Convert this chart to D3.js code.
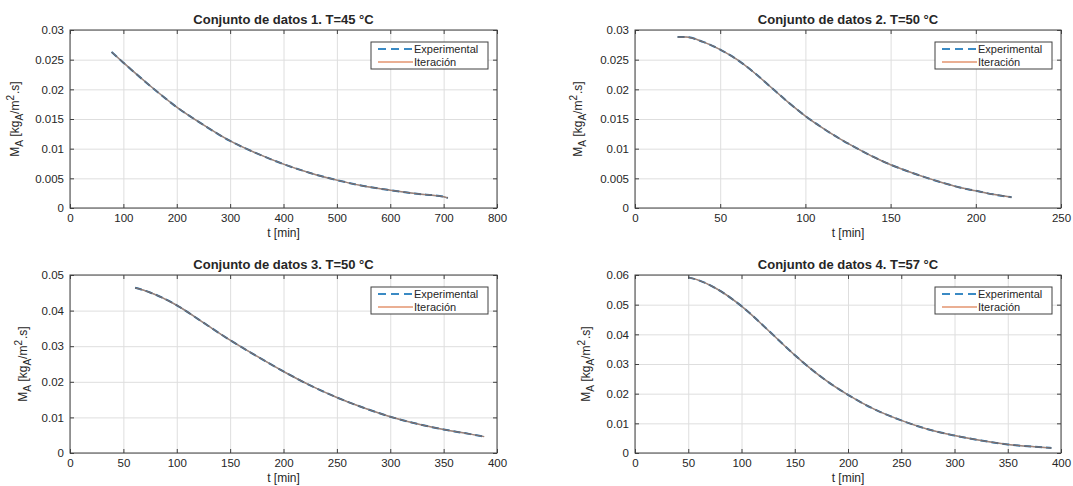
<!DOCTYPE html>
<html>
<head>
<meta charset="utf-8">
<script src="https://cdn.jsdelivr.net/npm/d3@7"></script>
<style>
body { margin: 0; background: #fff; }
text { font-family: "Liberation Sans", Arial, sans-serif; fill: #262626; }
</style>
</head>
<body>
<div id="chart"></div>
<script>
// Data (t in min, M_A in kg_A/m2.s)
const t1 = [78, 100, 150, 200, 250, 300, 350, 400, 450, 500, 550, 600, 650, 700, 708];
const m1 = [0.0263, 0.0245, 0.0206, 0.0170, 0.0140, 0.0113, 0.0092, 0.0074, 0.0059, 0.0047, 0.0037, 0.0030, 0.0024, 0.0019, 0.0017];

const t2 = [25, 30, 40, 50, 60, 70, 80, 90, 100, 110, 120, 130, 140, 150, 160, 170, 180, 190, 200, 210, 221];
const m2 = [0.0288, 0.0288, 0.0280, 0.0267, 0.0250, 0.0228, 0.0203, 0.0178, 0.0155, 0.0135, 0.0117, 0.0101, 0.0086, 0.0073, 0.0062, 0.0052, 0.0043, 0.0035, 0.0029, 0.0023, 0.0018];

const t3 = [61, 75, 100, 125, 150, 175, 200, 225, 250, 275, 300, 325, 350, 375, 388];
const m3 = [0.0464, 0.0451, 0.0415, 0.0366, 0.0317, 0.0272, 0.0229, 0.0190, 0.0156, 0.0127, 0.0102, 0.0082, 0.0066, 0.0053, 0.0046];

const t4 = [50, 60, 75, 100, 125, 150, 175, 200, 225, 250, 275, 300, 325, 350, 375, 391];
const m4 = [0.0592, 0.0582, 0.0557, 0.0495, 0.0414, 0.0330, 0.0256, 0.0196, 0.0147, 0.0110, 0.0080, 0.0059, 0.0042, 0.0029, 0.0021, 0.0017];

const titles = [
    'Conjunto de datos 1. T=45 °C',
    'Conjunto de datos 2. T=50 °C',
    'Conjunto de datos 3. T=50 °C',
    'Conjunto de datos 4. T=57 °C'
];
const x_ticks = [
    [0, 100, 200, 300, 400, 500, 600, 700, 800],
    [0, 50, 100, 150, 200, 250],
    [0, 50, 100, 150, 200, 250, 300, 350, 400],
    [0, 50, 100, 150, 200, 250, 300, 350, 400]
];
const y_ticks = [
    [0, 0.005, 0.01, 0.015, 0.02, 0.025, 0.03],
    [0, 0.005, 0.01, 0.015, 0.02, 0.025, 0.03],
    [0, 0.01, 0.02, 0.03, 0.04, 0.05],
    [0, 0.01, 0.02, 0.03, 0.04, 0.05, 0.06]
];
const legend_labels = ['Experimental', 'Iteración'];

const chart_width = 1073;
const chart_height = 486;
const blue = '#3a8ac4';
const orange = '#e3946f';

const series = [[t1, m1], [t2, m2], [t3, m3], [t4, m4]];
const panels = [
    { x: 70, y: 30, w: 427, h: 178, ylab: 15 },
    { x: 635, y: 30, w: 426, h: 178, ylab: 578 },
    { x: 70, y: 275, w: 427, h: 178, ylab: 23 },
    { x: 635, y: 275, w: 426, h: 178, ylab: 586 }
];

const svg = d3.select('#chart')
    .append('svg')
    .attr('width', chart_width)
    .attr('height', chart_height);

const fmt = d => String(+d.toFixed(3));

panels.forEach((p, i) => {
    const xt = x_ticks[i], yt = y_ticks[i];
    const [ts, ms] = series[i];
    const pts = ts.map((t, k) => [t, ms[k]]);

    const x_scale = d3.scaleLinear()
        .domain([xt[0], xt[xt.length - 1]])
        .range([p.x, p.x + p.w]);
    const y_scale = d3.scaleLinear()
        .domain([yt[0], yt[yt.length - 1]])
        .range([p.y + p.h, p.y]);

    const g = svg.append('g');

    // grid
    const gx = g.append('g')
        .attr('transform', `translate(0, ${p.y + p.h})`)
        .call(d3.axisBottom(x_scale).tickValues(xt).tickSize(-p.h).tickFormat(''));
    const gy = g.append('g')
        .attr('transform', `translate(${p.x}, 0)`)
        .call(d3.axisLeft(y_scale).tickValues(yt).tickSize(-p.w).tickFormat(''));
    [gx, gy].forEach(a => {
        a.select('.domain').remove();
        a.selectAll('line').attr('stroke', '#dedede').attr('stroke-width', 1);
    });

    // curves: dashed experimental under the iteration line
    const line = d3.line()
        .x(d => x_scale(d[0]))
        .y(d => y_scale(d[1]))
        .curve(d3.curveMonotoneX);

    g.append('path')
        .datum(pts)
        .attr('d', line)
        .attr('fill', 'none')
        .attr('stroke', '#2f7db8')
        .attr('stroke-width', 2)
        .attr('stroke-dasharray', '7,4');
    g.append('path')
        .datum(pts)
        .attr('d', line)
        .attr('fill', 'none')
        .attr('stroke', '#4b535b')
        .attr('stroke-opacity', 0.75)
        .attr('stroke-width', 1.5);
    g.append('path')
        .datum(pts)
        .attr('d', line)
        .attr('fill', 'none')
        .attr('stroke', '#e08a66')
        .attr('stroke-opacity', 0.55)
        .attr('stroke-width', 0.8);

    // inward ticks on all four sides
    const tick_axes = [
        [d3.axisBottom(x_scale).tickValues(xt), `translate(0, ${p.y + p.h})`],
        [d3.axisTop(x_scale).tickValues(xt), `translate(0, ${p.y})`],
        [d3.axisLeft(y_scale).tickValues(yt), `translate(${p.x}, 0)`],
        [d3.axisRight(y_scale).tickValues(yt), `translate(${p.x + p.w}, 0)`]
    ];
    tick_axes.forEach(([ax, tr]) => {
        const a = g.append('g')
            .attr('transform', tr)
            .call(ax.tickSize(-4).tickFormat(''));
        a.select('.domain').remove();
        a.selectAll('line').attr('stroke', '#404040');
    });

    // box
    g.append('rect')
        .attr('x', p.x).attr('y', p.y)
        .attr('width', p.w).attr('height', p.h)
        .attr('fill', 'none')
        .attr('stroke', '#404040')
        .attr('stroke-width', 1);

    // tick labels
    const lx = g.append('g')
        .attr('transform', `translate(0, ${p.y + p.h})`)
        .call(d3.axisBottom(x_scale).tickValues(xt).tickSize(0).tickPadding(6));
    const ly = g.append('g')
        .attr('transform', `translate(${p.x}, 0)`)
        .call(d3.axisLeft(y_scale).tickValues(yt).tickSize(0).tickPadding(6).tickFormat(fmt));
    [lx, ly].forEach(a => {
        a.select('.domain').remove();
        a.selectAll('text')
            .attr('font-size', 11.5)
            .attr('font-family', '"Liberation Sans", Arial, sans-serif')
            .attr('fill', '#262626');
    });

    // title
    g.append('text')
        .attr('x', p.x + p.w / 2)
        .attr('y', p.y - 6)
        .attr('text-anchor', 'middle')
        .attr('font-size', 13)
        .attr('font-weight', 'bold')
        .attr('fill', '#000')
        .text(titles[i]);

    // x label
    g.append('text')
        .attr('x', p.x + p.w / 2)
        .attr('y', p.y + p.h + 29)
        .attr('text-anchor', 'middle')
        .attr('font-size', 12)
        .text('t [min]');

    // y label
    const yl = g.append('text')
        .attr('transform', `translate(${p.ylab}, ${p.y + p.h / 2}) rotate(-90)`)
        .attr('text-anchor', 'middle')
        .attr('dy', '0.35em')
        .attr('font-size', 12);
    yl.append('tspan').text('M');
    yl.append('tspan').attr('dy', 4).attr('font-size', 10).text('A');
    yl.append('tspan').attr('dy', -4).text(' [kg');
    yl.append('tspan').attr('dy', 4).attr('font-size', 10).text('A');
    yl.append('tspan').attr('dy', -4).text('/m');
    yl.append('tspan').attr('dy', -5).attr('font-size', 10).text('2');
    yl.append('tspan').attr('dy', 5).attr('dx', 1).text('.s]');

    // legend
    const lw = 117, lh = 27;
    const lg = g.append('g')
        .attr('transform', `translate(${p.x + p.w - 9 - lw}, ${p.y + 12})`);
    lg.append('rect')
        .attr('width', lw).attr('height', lh)
        .attr('fill', '#fff')
        .attr('stroke', '#404040')
        .attr('stroke-width', 1);
    legend_labels.forEach((lab, k) => {
        const yy = 7 + k * 13;
        lg.append('line')
            .attr('x1', 7).attr('x2', 42)
            .attr('y1', yy).attr('y2', yy)
            .attr('stroke', k === 0 ? blue : orange)
            .attr('stroke-width', k === 0 ? 2 : 1.3)
            .attr('stroke-dasharray', k === 0 ? '8,5' : null);
        lg.append('text')
            .attr('x', 43)
            .attr('y', yy)
            .attr('dy', '0.35em')
            .attr('font-size', 11)
            .text(lab);
    });
});
</script>
</body>
</html>
